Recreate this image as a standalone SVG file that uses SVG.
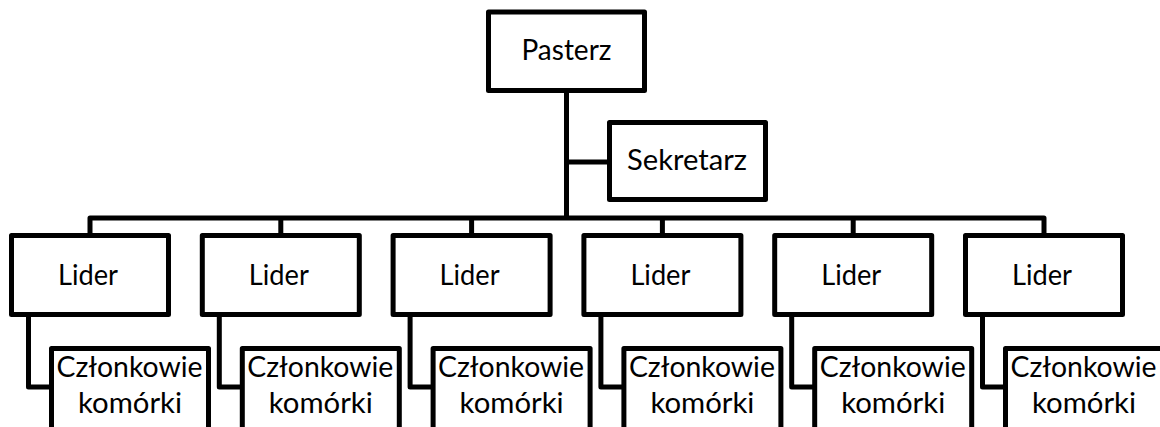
<svg xmlns="http://www.w3.org/2000/svg" width="1160" height="427" viewBox="0 0 1160 427">
  <style>
    .box { fill: #ffffff; stroke: #000000; stroke-width: 5; stroke-linejoin: round; }
    .link { fill: none; stroke: #000000; stroke-width: 5; stroke-linejoin: round; }
    .lbl { font-family: Lato, "Open Sans", "Liberation Sans", sans-serif; font-size: 28px; fill: #000000; text-anchor: middle; }
  </style>

  <g id="connectors">
    <!-- trunk from the top box down to the leader bar -->
    <path class="link" d="M566.5 90 V218"/>
    <path class="link" d="M566.5 162 H610"/>
    <path class="link" d="M90 235.5 V218 H1044 V235.5"/>
    <path class="link" d="M280.8 218 V235.5"/>
    <path class="link" d="M471.6 218 V235.5"/>
    <path class="link" d="M662.4 218 V235.5"/>
    <path class="link" d="M853.2 218 V235.5"/>
    <!-- leader to cell members elbows -->
    <path class="link" d="M28.5 314 V387 H52"/>
    <path class="link" d="M219.3 314 V387 H242.8"/>
    <path class="link" d="M410.1 314 V387 H433.6"/>
    <path class="link" d="M600.9 314 V387 H624.4"/>
    <path class="link" d="M791.7 314 V387 H815.2"/>
    <path class="link" d="M982.5 314 V387 H1006"/>
  </g>

  <g id="pasterz">
    <rect class="box" x="488.5" y="12" width="156" height="78.5"/>
    <text class="lbl" x="566.5" y="60" textLength="90" lengthAdjust="spacingAndGlyphs">Pasterz</text>
  </g>

  <g id="sekretarz">
    <rect class="box" x="609.5" y="122.5" width="156" height="77"/>
    <text class="lbl" x="687" y="170" textLength="120" lengthAdjust="spacingAndGlyphs">Sekretarz</text>
  </g>

  <g id="lider-1">
    <rect class="box" x="11.5" y="235.5" width="157" height="79"/>
    <text class="lbl" x="88" y="285" textLength="60" lengthAdjust="spacingAndGlyphs">Lider</text>
  </g>
  <g id="lider-2">
    <rect class="box" x="202.3" y="235.5" width="157" height="79"/>
    <text class="lbl" x="278.8" y="285" textLength="60" lengthAdjust="spacingAndGlyphs">Lider</text>
  </g>
  <g id="lider-3">
    <rect class="box" x="393.1" y="235.5" width="157" height="79"/>
    <text class="lbl" x="469.6" y="285" textLength="60" lengthAdjust="spacingAndGlyphs">Lider</text>
  </g>
  <g id="lider-4">
    <rect class="box" x="583.9" y="235.5" width="157" height="79"/>
    <text class="lbl" x="660.4" y="285" textLength="60" lengthAdjust="spacingAndGlyphs">Lider</text>
  </g>
  <g id="lider-5">
    <rect class="box" x="774.7" y="235.5" width="157" height="79"/>
    <text class="lbl" x="851.2" y="285" textLength="60" lengthAdjust="spacingAndGlyphs">Lider</text>
  </g>
  <g id="lider-6">
    <rect class="box" x="965.5" y="235.5" width="157" height="79"/>
    <text class="lbl" x="1042" y="285" textLength="60" lengthAdjust="spacingAndGlyphs">Lider</text>
  </g>

  <g id="czlonkowie-1">
    <rect class="box" x="51.5" y="348.5" width="157" height="82"/>
    <text class="lbl" x="129.5" y="377" textLength="146" lengthAdjust="spacingAndGlyphs">Członkowie</text>
    <text class="lbl" x="130" y="413" textLength="104" lengthAdjust="spacingAndGlyphs">komórki</text>
  </g>
  <g id="czlonkowie-2">
    <rect class="box" x="242.3" y="348.5" width="157" height="82"/>
    <text class="lbl" x="320.3" y="377" textLength="146" lengthAdjust="spacingAndGlyphs">Członkowie</text>
    <text class="lbl" x="320.8" y="413" textLength="104" lengthAdjust="spacingAndGlyphs">komórki</text>
  </g>
  <g id="czlonkowie-3">
    <rect class="box" x="433.1" y="348.5" width="157" height="82"/>
    <text class="lbl" x="511.1" y="377" textLength="146" lengthAdjust="spacingAndGlyphs">Członkowie</text>
    <text class="lbl" x="511.6" y="413" textLength="104" lengthAdjust="spacingAndGlyphs">komórki</text>
  </g>
  <g id="czlonkowie-4">
    <rect class="box" x="623.9" y="348.5" width="157" height="82"/>
    <text class="lbl" x="701.9" y="377" textLength="146" lengthAdjust="spacingAndGlyphs">Członkowie</text>
    <text class="lbl" x="702.4" y="413" textLength="104" lengthAdjust="spacingAndGlyphs">komórki</text>
  </g>
  <g id="czlonkowie-5">
    <rect class="box" x="814.7" y="348.5" width="157" height="82"/>
    <text class="lbl" x="892.7" y="377" textLength="146" lengthAdjust="spacingAndGlyphs">Członkowie</text>
    <text class="lbl" x="893.2" y="413" textLength="104" lengthAdjust="spacingAndGlyphs">komórki</text>
  </g>
  <g id="czlonkowie-6">
    <rect class="box" x="1005.5" y="348.5" width="157" height="82"/>
    <text class="lbl" x="1083.5" y="377" textLength="146" lengthAdjust="spacingAndGlyphs">Członkowie</text>
    <text class="lbl" x="1084" y="413" textLength="104" lengthAdjust="spacingAndGlyphs">komórki</text>
  </g>
</svg>
